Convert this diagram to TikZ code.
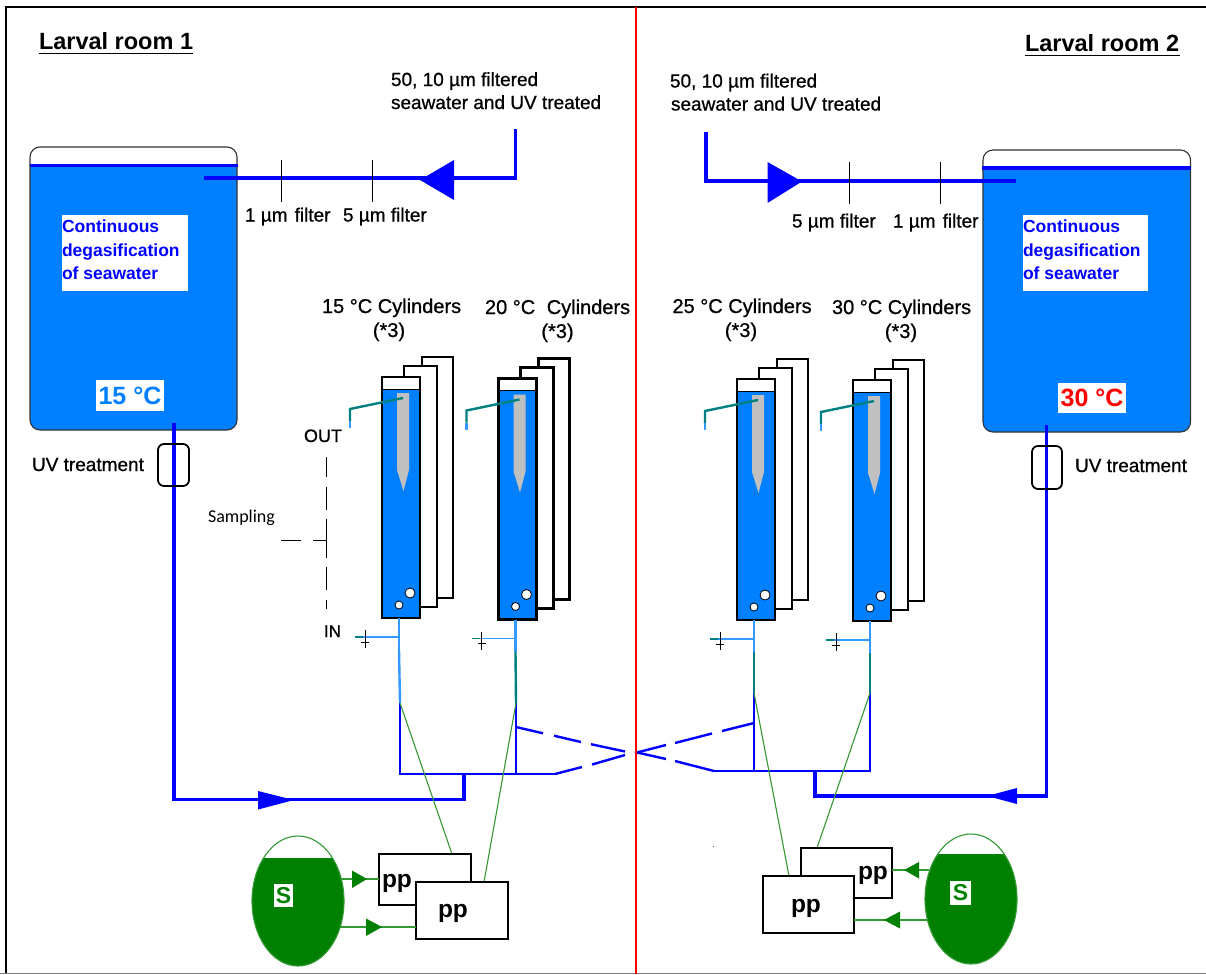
\documentclass[tikz,border=0pt]{standalone}
\usepackage{fontspec}
\setmainfont{Liberation Sans}
\newfontfamily\semi[FakeBold=0.8]{Liberation Sans}
\newfontfamily\sampfont{Carlito}
\definecolor{pipeblue}{HTML}{0000FF}
\definecolor{tankblue}{HTML}{0080FF}
\definecolor{lightpipe}{HTML}{3399FF}
\definecolor{tealpipe}{HTML}{008080}
\definecolor{feedgreen}{HTML}{008000}
\definecolor{spike}{HTML}{C0C0C0}
\newcommand{\fs}[1]{\fontsize{#1}{#1}\selectfont}
\tikzset{
  lbl/.style={anchor=base west,inner sep=0pt,outer sep=0pt,text=black},
  semitext/.style={lbl,font=\semi\fs{19}},
  cyltext/.style={lbl,font=\semi\fs{20}},
  mult/.style={anchor=base,inner sep=0pt,text=black,font=\semi\fs{20}},
  roomtext/.style={lbl,font=\bfseries\fs{23.5}},
  degastext/.style={lbl,text=pipeblue,font=\bfseries\fs{17.5}},
  temptext/.style={anchor=center,inner sep=0pt,fill=white,font=\bfseries\fs{25}},
  pipe/.style={draw=pipeblue,line width=3.6pt,line join=miter},
  manifold/.style={draw=pipeblue,line width=2.8pt,line join=miter},
  dashpipe/.style={draw=pipeblue,line width=2.4pt},
  filtertick/.style={draw=black,line width=1pt},
  feed/.style={draw=feedgreen!80!white,line width=1.1pt},
  head/.style={fill=pipeblue},
  ghead/.style={fill=feedgreen},
  frame/.style={draw=black,line width=2.4pt,fill=white,line join=miter},
  ppbox/.style={draw=black,line width=2pt,fill=white,inner sep=0pt},
  pptext/.style={lbl,font=\bfseries\fs{24.5}},
  uvbox/.style={draw=black,line width=1.8pt,rounded corners=6pt},
  tankline/.style={draw=black!80,line width=1.1pt},
  stext/.style={fill=white,text=feedgreen,inner sep=0pt,font=\bfseries\fs{23}},
  sample/.style={draw=black,line width=1pt}
}
% cylinder set: name, dx, dy, colour of the lower stem
\newcommand{\cylset}[4]{%
\begin{scope}[shift={(#2,#3)}]
  \draw[frame] (422,357) rectangle (453,598);
  \draw[frame] (404,366) rectangle (437,607);
  \draw[frame] (382,377) rectangle (420,618);
  \fill[tankblue] (383.2,389) rectangle (418.8,616.8);
  \draw[black,line width=1pt] (383,389) -- (419,389);
  \fill[spike] (397,393) -- (409,393) -- (409,470) -- (403.5,491) -- (397,470) -- cycle;
  \coordinate (#1-in) at (403,398);
  \coordinate (#1-elbow) at (350,409);
  \coordinate (#1-mid) at (350,421);
  \coordinate (#1-out) at (350,428);
  \draw[tealpipe,line width=2.4pt] (#1-in) -- (#1-elbow) -- (#1-mid);
  \draw[lightpipe,line width=2.2pt] (#1-mid) -- (#1-out);
  \node[circle,draw=black,fill=white,line width=0.8pt,minimum size=10pt,inner sep=0pt] (#1-b1) at (410,593) {};
  \node[circle,draw=black,fill=white,line width=0.8pt,minimum size=8pt,inner sep=0pt] (#1-b2) at (399,605) {};
  \coordinate (#1-foot) at (399,618);
  \coordinate (#1-branch) at (399,637);
  \coordinate (#1-tip) at (355,637);
  \coordinate (#1-tipend) at (363,637);
  \coordinate (#1-low) at (399,650);
  \draw[lightpipe,line width=2.4pt] (#1-foot) -- (#1-low);
  \draw[lightpipe,line width=1.3pt] (#1-branch) -- (#1-tipend);
  \draw[tealpipe,line width=1.3pt] (#1-tipend) -- (#1-tip);
  \draw[black,line width=0.9pt] (365,630) -- (365,648) (361,642) -- (369,642);
\end{scope}}
\begin{document}
\begin{tikzpicture}[x=1pt,y=-1pt]
\useasboundingbox (0,0) rectangle (1206,974);
\fill[white] (0,0) rectangle (1206,974);
% frame and divider
\coordinate (fTL) at (6,7); \coordinate (fTR) at (1206,7); \coordinate (fBL) at (6,974);
\draw[black,line width=2pt] (fBL) -- (fTL) -- (fTR);
\draw[black!50,line width=1pt] (0,973.4) -- (1206,973.4);
\coordinate (rTop) at (636,7); \coordinate (rBot) at (636,974);
% ---------- tanks
\draw[tankline,fill=white,rounded corners=10pt] (30,166) -- (30,147) -- (237,147) -- (237,166);
\draw[tankline,fill=tankblue] (30,166) [rounded corners=10pt] -- (30,430) -- (237,430) [sharp corners] -- (237,166) -- cycle;
\draw[pipeblue,line width=3.4pt] (30,165.5) -- (238,165.5);
\draw[tankline,fill=white,rounded corners=10pt] (983,168) -- (983,150) -- (1190.5,150) -- (1190.5,168);
\draw[tankline,fill=tankblue] (983,168) [rounded corners=10pt] -- (983,432) -- (1190.5,432) [sharp corners] -- (1190.5,168) -- cycle;
\draw[pipeblue,line width=3.4pt] (982,168) -- (1191,168);
% degas boxes
\fill[white] (62,215) rectangle (188,291);
\node[degastext] (dg1) at (62,232.5) {Continuous};
\node[degastext] (dg2) at (62,256) {degasification};
\node[degastext] (dg3) at (62,279) {of seawater};
\fill[white] (1023,215) rectangle (1148,291);
\node[degastext] (dg4) at (1023,232.5) {Continuous};
\node[degastext] (dg5) at (1023,256) {degasification};
\node[degastext] (dg6) at (1023,279) {of seawater};
% temperatures
\node[temptext,text=tankblue,minimum width=68pt,minimum height=31pt] (t15) at (130,395.5) {15 °C};
\node[temptext,text=red,minimum width=68pt,minimum height=30pt] (t30) at (1092,398) {30 °C};
% ---------- inlet pipes
\coordinate (inL0) at (515.5,129); \coordinate (inL1) at (515.5,178); \coordinate (inL2) at (204,178);
\draw[pipe] (inL0) -- (inL1) -- (inL2);
\fill[head] (420,180) -- (454,160) -- (454,200) -- cycle;
\coordinate (inR0) at (706,132); \coordinate (inR1) at (706,181); \coordinate (inR2) at (1016,181);
\draw[pipe] (inR0) -- (inR1) -- (inR2);
\fill[head] (802,181.5) -- (767.5,162) -- (767.5,203) -- cycle;
\coordinate (f1a) at (281,160); \coordinate (f1b) at (281,202);
\coordinate (f2a) at (372,160); \coordinate (f2b) at (372,202);
\coordinate (f3a) at (849,162); \coordinate (f3b) at (849,204);
\coordinate (f4a) at (940,162); \coordinate (f4b) at (940,204);
\draw[filtertick] (f1a) -- (f1b); \draw[filtertick] (f2a) -- (f2b);
\draw[filtertick] (f3a) -- (f3b); \draw[filtertick] (f4a) -- (f4b);
% ---------- labels
\node[roomtext] (room1) at (39,50) {Larval room 1};
\node[roomtext] (room2) at (1025,51.5) {Larval room 2};
\coordinate (u1a) at (39,53.5); \coordinate (u1b) at (193,53.5);
\coordinate (u2a) at (1025,55.5); \coordinate (u2b) at (1180,55.5);
\draw[black,line width=1.6pt] (u1a) -- (u1b); \draw[black,line width=1.6pt] (u2a) -- (u2b);
\node[semitext] (sw1) at (391,86) {50, 10 µm filtered};
\node[semitext] (sw2) at (391,109) {seawater and UV treated};
\node[semitext] (sw3) at (670,87.5) {50, 10 µm filtered};
\node[semitext] (sw4) at (671,110.5) {seawater and UV treated};
\node[semitext] (fl1) at (245,221.5) {1 µm\hspace{7pt}filter};
\node[semitext] (fl2) at (343,221.5) {5 µm filter};
\node[semitext] (fl3) at (792,227.5) {5 µm filter};
\node[semitext] (fl4) at (893,227.5) {1 µm\hspace{7pt}filter};
\node[cyltext] (c1) at (322,313) {15 °C Cylinders};
\node[cyltext] (c2) at (485,314) {20 °C\hspace{6pt} Cylinders};
\node[cyltext] (c3) at (672.5,313) {25 °C Cylinders};
\node[cyltext] (c4) at (832,314) {30 °C Cylinders};
\node[mult] (m1) at (389,337) {(*3)};
\node[mult] (m2) at (557.5,338) {(*3)};
\node[mult] (m3) at (741,337) {(*3)};
\node[mult] (m4) at (901,338) {(*3)};
\node[lbl,font=\semi\fs{19}] (uv1) at (32,471) {UV treatment};
\node[lbl,font=\semi\fs{19}] (uv2) at (1075,472) {UV treatment};
\node[lbl,font=\semi\fs{18}] (outl) at (304,442) {OUT};
\node[lbl,font=\semi\fs{17}] (inl) at (324,637) {IN};
\node[lbl,font=\sampfont\fs{18}] (samp) at (208,522) {Sampling};
% sampling dashes
\coordinate (sTop) at (326,457); \coordinate (sBot) at (326,609);
\coordinate (sJoin) at (326,540); \coordinate (sEnd) at (281,540);
\draw[sample] (sTop) -- (326,477) (326,487) -- (326,510) (326,519) -- (326,558) (326,567) -- (326,590) (326,600) -- (sBot);
\draw[sample] (sEnd) -- (301,540) (313,540) -- (sJoin);
% ---------- cylinders
\cylset{cA}{0}{0}{lightpipe}
\cylset{cB}{116.5}{1.5}{tealpipe}
\cylset{cC}{355}{2}{tealpipe}
\cylset{cD}{471}{3}{tealpipe}
% ---------- manifolds
\coordinate (jA) at (400,703); \coordinate (jB) at (516,703);
\coordinate (jC) at (754,693); \coordinate (jD) at (870,693);
\coordinate (mA) at (400,774); \coordinate (mB) at (516,774); \coordinate (mE) at (555,774);
\coordinate (mC) at (754,771); \coordinate (mD) at (870,771); \coordinate (mF) at (714,771);
\draw[lightpipe,line width=2.4pt] (cA-low) -- (jA);
\draw[tealpipe,line width=2.4pt] (cB-low) -- (jB);
\draw[tealpipe,line width=2.4pt] (cC-low) -- (jC);
\draw[tealpipe,line width=2.4pt] (cD-low) -- (jD);
\draw[manifold] (jA) -- (mA) -- (mE);
\draw[manifold] (jB) -- (mB);
\draw[manifold] (jD) -- (mD) -- (mF);
\draw[manifold] (jC) -- (mC);
% crossing dashed links
\coordinate (xU) at (516,727); \coordinate (xV) at (754,723);
\draw[dashpipe] (xU) -- (543,733.3) (554,735.7) -- (581,742) (591,744.2) -- (625,751.5);
\draw[dashpipe] (mE) -- (582,767) (592,764.5) -- (625,755);
\draw[dashpipe] (xV) -- (722,731) (712,733.5) -- (675,743) (666,745) -- (635,753);
\draw[dashpipe] (mF) -- (675,761) (666,759) -- (635,752);
% return pipes
\coordinate (rL0) at (464,774); \coordinate (rL1) at (464,799.5); \coordinate (rL2) at (174,799.5); \coordinate (rL3) at (174,423);
\draw[pipe] (rL0) -- (rL1) -- (rL2) -- (rL3);
\fill[head] (294,800) -- (258,791) -- (258,809.5) -- cycle;
\coordinate (rR0) at (815,771); \coordinate (rR1) at (815,796); \coordinate (rR2) at (1046.5,796); \coordinate (rR3) at (1046.5,425);
\draw[pipe] (rR0) -- (rR1) -- (rR2) -- (rR3);
\fill[head] (987,796) -- (1017,788) -- (1017,804) -- cycle;
% UV units
\node[uvbox,minimum width=31pt,minimum height=42pt,inner sep=0pt] (uvA) at (173.5,465) {};
\node[uvbox,minimum width=30pt,minimum height=43pt,inner sep=0pt] (uvB) at (1047,467.5) {};
% red divider
\draw[red,line width=2pt] (rTop) -- (rBot);
% ---------- peristaltic pumps
\coordinate (gA) at (452,854); \coordinate (gB) at (484,882);
\coordinate (gC) at (789,876); \coordinate (gD) at (817,848);
\draw[feed] (jA) -- (gA); \draw[feed] (jB) -- (gB);
\draw[feed] (jC) -- (gC); \draw[feed] (jD) -- (gD);
\node[ppbox,minimum width=92pt,minimum height=51pt] (pA) at (425,879.5) {};
\node[pptext] (ptA) at (382,887) {pp};
\node[ppbox,minimum width=92pt,minimum height=57pt] (pB) at (462,910.5) {};
\node[pptext] (ptB) at (438,917) {pp};
\node[ppbox,minimum width=91pt,minimum height=50pt] (pC) at (846.5,873) {};
\node[pptext] (ptC) at (858,879) {pp};
\node[ppbox,minimum width=91pt,minimum height=57pt] (pD) at (808.5,904.5) {};
\node[pptext] (ptD) at (791,912) {pp};
% ---------- S tanks
\begin{scope}
  \clip (200,858) rectangle (400,974);
  \fill[feedgreen] (298,901) ellipse [x radius=46,y radius=65];
\end{scope}
\draw[feed] (298,901) ellipse [x radius=46,y radius=65];
\begin{scope}
  \clip (900,854) rectangle (1040,974);
  \fill[feedgreen] (971,899) ellipse [x radius=46,y radius=65];
\end{scope}
\draw[feed] (971,899) ellipse [x radius=46,y radius=65];
\node[stext,minimum width=19pt,minimum height=23pt] (sA) at (283.5,895.5) {S};
\node[stext,minimum width=21pt,minimum height=24pt] (sB) at (960.5,893) {S};
% feed arrows
\coordinate (a1) at (342,879); \coordinate (a2) at (379,879);
\coordinate (a3) at (340,927); \coordinate (a4) at (416,927);
\coordinate (a5) at (892,870); \coordinate (a6) at (929,870);
\coordinate (a7) at (854,920); \coordinate (a8) at (927,920);
\draw[feed] (a1) -- (a2); \draw[feed] (a3) -- (a4); \draw[feed] (a5) -- (a6); \draw[feed] (a7) -- (a8);
\fill[ghead] (367,879) -- (352,870.5) -- (352,888) -- cycle;
\fill[ghead] (382,927) -- (366,918.5) -- (366,936) -- cycle;
\fill[ghead] (904,870) -- (919,862) -- (919,878.5) -- cycle;
\fill[ghead] (884,920) -- (900,911.5) -- (900,928.5) -- cycle;
\fill[black!70] (713,845.5) rectangle (714,846.5);
\end{tikzpicture}
\end{document}
